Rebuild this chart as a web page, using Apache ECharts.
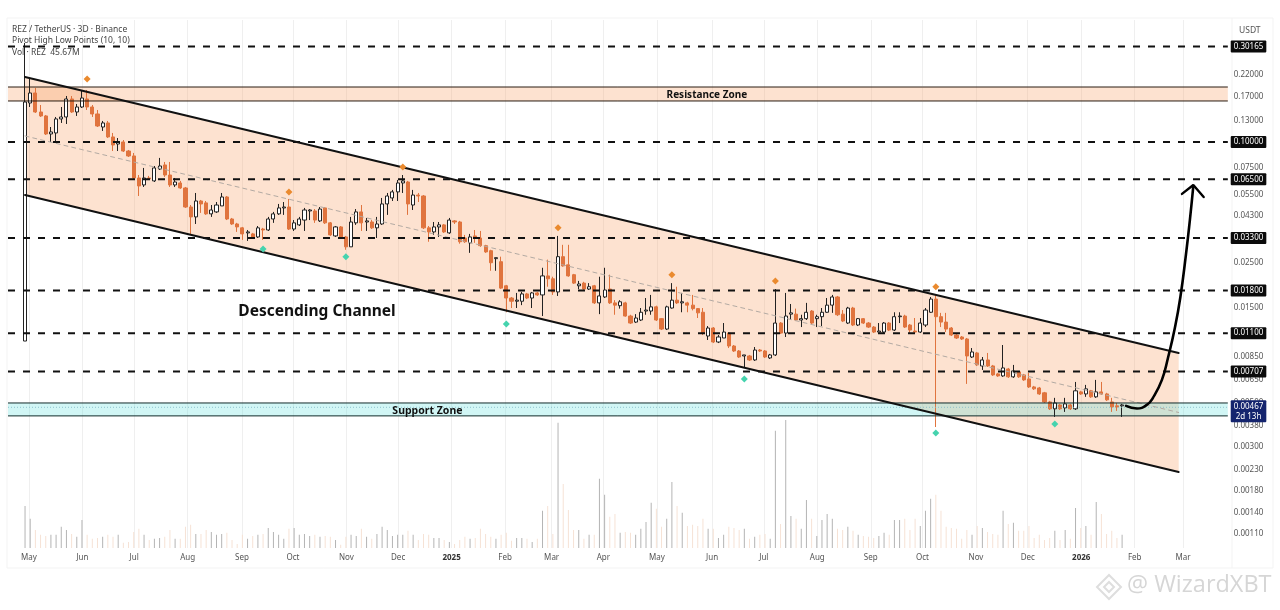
<!DOCTYPE html>
<html><head><meta charset="utf-8">
<style>html,body{margin:0;padding:0;background:#fff}#c{width:1280px;height:610px}</style>
<script src="https://cdn.jsdelivr.net/npm/echarts@6/dist/echarts.min.js"></script>
</head><body><div id="c"></div>
<script>
// ---- Data ----
const firstBar = '2024-04-28T17:00:00Z';
const barDays = 3;
const opens = [
.01004,.1569,.1761,.1414,.1351,.1097,.1110,.1305,.1335,.1643,
.1414,.1498,.1643,.1498,.1382,.1189,.1246,.1060,.0977,.1000,
.0901,.0851,.0660,.0609,.0660,.0638,.0732,.0767,.0683,.0609,
.0623,.0588,.0472,.0421,.0506,.0495,.0436,.0446,.0478,.0530,
.0411,.0388,.0371,.0350,.0346,.0334,.0366,.0362,.0411,.0436,
.0467,.0472,.0366,.0384,.0406,.0451,.0451,.0402,.0467,.0393,
.0338,.0375,.0334,.0298,.0393,.0446,.0397,.0397,.0371,.0388,
.0489,.0524,.0562,.0623,.0630,.0483,.0542,.0536,.0371,.0354,
.0375,.0384,.0350,.0402,.0397,.0330,.0312,.0338,.0330,.0302,
.0285,.0260,.0251,.0190,.0165,.0159,.0159,.0173,.0165,.0175,
.0171,.0213,.0206,.0177,.0266,.0242,.0216,.0190,.0196,.0183,
.0190,.0156,.0167,.0183,.0156,.0151,.0156,.0134,.0125,.0128,
.0142,.0142,.0149,.0130,.01153,.0147,.0161,.0156,.0156,.0152,
.0146,.0140,.01064,.01167,.00993,.0104,.01101,.00948,.00895,.00845,
.00845,.00807,.00905,.00895,.00826,.00855,.01236,.01101,.0137,.0137,
.0128,.0130,.0142,.0130,.0133,.0140,.0152,.0167,.0137,.01236,
.0147,.01208,.0130,.01236,.0118,.01114,.01114,.01236,.0114,.0133,
.0134,.01208,.01127,.01114,.01208,.0140,.0163,.0133,.0125,.01167,
.01076,.01052,.01028,.00835,.00875,.00753,.00807,.00753,.00687,.00671,
.00727,.00664,.00703,.00679,.00648,.00591,.00584,.00552,.00497,.00459,
.0048,.00464,.0048,.00459,.00558,.00545,.00565,.00527,.00558,.00545,
.00497,.00475,.00475];
const closes = [
.1587,.1761,.1414,.1351,.1097,.1123,.1305,.1335,.1643,.1414,
.1498,.1662,.1498,.1382,.1203,.1246,.1060,.0966,.1000,.0901,
.0851,.0660,.0602,.0660,.0653,.0741,.0758,.0683,.0609,.0630,
.0588,.0472,.0421,.0506,.0489,.0436,.0456,.0483,.0530,.0411,
.0388,.0375,.0346,.0354,.0334,.0371,.0362,.0411,.0436,.0467,
.0472,.0366,.0393,.0411,.0456,.0456,.0406,.0461,.0393,.0342,
.0375,.0334,.0298,.0397,.0446,.0393,.0402,.0371,.0388,.0489,
.0536,.0562,.0623,.0638,.0489,.0542,.0536,.0371,.0354,.0375,
.0384,.0354,.0406,.0397,.0316,.0316,.0334,.0330,.0302,.0281,
.0248,.0263,.0185,.0165,.0159,.0161,.0173,.0165,.0175,.0171,
.0213,.0206,.0177,.0266,.0239,.0213,.0196,.0194,.0183,.0188,
.0156,.0169,.0181,.0156,.0152,.0158,.0134,.01236,.0131,.0140,
.01436,.0149,.0128,.01153,.0149,.0161,.0156,.0158,.0152,.0146,
.0139,.01101,.01167,.00993,.01052,.01114,.00948,.00895,.00835,.00855,
.00807,.00905,.00895,.00835,.00855,.01236,.01101,.0134,.0139,.0128,
.0130,.0140,.01236,.0133,.0140,.0152,.0167,.0136,.01265,.0147,
.01208,.0130,.01236,.0118,.01114,.01127,.01236,.0114,.0133,.0134,
.0118,.0114,.01114,.01236,.01436,.0163,.0133,.0125,.01153,.01076,
.0104,.01028,.00845,.00885,.00762,.00807,.00753,.00679,.00671,.00736,
.00664,.00711,.00664,.00641,.00591,.00578,.00545,.00497,.00459,.00491,
.00459,.00486,.00459,.00565,.00545,.00578,.00527,.00558,.00545,.00509,
.00469,.00469,.0048];
const lows = [
.01004,.1498,.1398,.1335,.1084,.1000,.0989,.1246,.1231,.1398,
.1351,.1481,.1447,.1335,.1189,.1136,.1047,.0901,.0901,.0891,
.0841,.0653,.0536,.0595,.0645,.0630,.0724,.0668,.0595,.0595,
.0582,.0467,.0346,.0388,.0441,.0431,.0421,.0441,.0478,.0406,
.0384,.0354,.0323,.0319,.0330,.0330,.0323,.0358,.0393,.0431,
.0431,.0362,.0358,.0379,.0358,.0406,.0393,.0397,.0388,.0338,
.0334,.0330,.0288,.0298,.0384,.0358,.0358,.0366,.0330,.0384,
.0431,.0506,.0506,.0555,.0431,.0456,.0500,.0366,.0316,.0342,
.0334,.0350,.0346,.0388,.0309,.0312,.0278,.0312,.0298,.0278,
.0226,.0226,.0183,.0140,.0147,.0147,.0152,.0163,.0147,.0169,
.0134,.0188,.0171,.0169,.0237,.0211,.0194,.0183,.0181,.0181,
.0154,.0137,.0165,.0154,.0136,.0146,.0133,.01222,.01236,.01265,
.0136,.0136,.01265,.0114,.0114,.0146,.0154,.0140,.0140,.0143,
.0131,.01076,.01016,.00981,.00981,.0104,.00926,.00885,.00826,.00736,
.00798,.00798,.00885,.00826,.00816,.00845,.01089,.01052,.0128,.01265,
.0118,.0128,.01222,.0118,.01194,.0139,.0139,.0134,.0125,.01222,
.01194,.01194,.01222,.01167,.01101,.01114,.01101,.01127,.01127,.01236,
.01167,.01101,.01101,.01101,.0118,.0139,.00372,.0118,.01114,.01064,
.01028,.01016,.00612,.00826,.00753,.00719,.00744,.00671,.00664,.00664,
.00656,.00656,.00656,.00634,.00584,.00571,.00539,.00491,.00453,.00418,
.00453,.00443,.00453,.00453,.00539,.00527,.00521,.00521,.00539,.00503,
.00443,.00448,.00418];
const highs = [
.3137,.2094,.1866,.1533,.1366,.1189,.1335,.1498,.1701,.1701,
.1551,.1802,.1823,.1533,.1447,.1275,.1275,.1110,.1047,.1023,
.0912,.0881,.0683,.0741,.0676,.0758,.0832,.0794,.0794,.0660,
.0638,.0595,.0483,.0555,.0512,.0506,.0483,.0500,.0555,.0536,
.0416,.0393,.0375,.0362,.0350,.0379,.0371,.0421,.0446,.0489,
.0500,.0518,.0406,.0421,.0467,.0461,.0461,.0472,.0472,.0397,
.0379,.0379,.0338,.0421,.0461,.0483,.0416,.0406,.0421,.0524,
.0555,.0575,.0645,.0683,.0638,.0575,.0555,.0542,.0379,.0397,
.0397,.0388,.0416,.0406,.0402,.0342,.0346,.0362,.0358,.0305,
.0288,.0263,.0266,.0192,.0167,.0175,.0177,.0175,.0177,.0177,
.0234,.0257,.0211,.0338,.0305,.0305,.0218,.0201,.0199,.0196,
.0192,.0211,.0234,.0216,.0161,.0161,.0158,.0136,.0137,.0147,
.0165,.0171,.0151,.0131,.0151,.0196,.0188,.0175,.0158,.0171,
.0147,.0147,.01194,.0118,.01076,.01236,.01114,.00959,.00905,.00855,
.00855,.00937,.00916,.00905,.00865,.0183,.0125,.0175,.0154,.0146,
.0136,.0156,.01436,.0136,.0147,.0165,.0171,.0169,.01436,.0149,
.0149,.0131,.0131,.0125,.01194,.01236,.0125,.0125,.0140,.0140,
.0136,.01222,.0131,.0131,.0147,.0167,.0171,.0139,.0139,.0118,
.01089,.01064,.0104,.00926,.00885,.00835,.00875,.00762,.00695,.00959,
.00736,.00762,.00711,.00687,.00695,.00598,.00591,.00558,.00503,.00521,
.00486,.00521,.00486,.00626,.00565,.00605,.00571,.00641,.00626,.00552,
.00521,.00491,.00486];
const volumesM = [
147,102,63,46,42,46,46,74,63,49,
39,98,46,32,35,39,46,39,46,18,
21,56,67,46,28,32,35,39,63,32,
32,74,81,49,49,63,56,46,49,53,
28,14,46,32,42,46,49,70,56,46,
32,67,70,46,49,42,46,39,42,39,
28,11,39,46,42,67,39,32,49,74,
63,42,46,46,60,46,28,49,46,35,
35,28,21,14,28,39,32,35,67,49,
39,32,46,53,25,35,35,32,21,32,
130,147,49,438,
224,133,63,63,32,46,46,242,186,109,119,53,56,53,46,67,91,158,137,74,102,231,147,123,77,81,77,102,67,67,35,46,74,70,63,67,32,39,46,49,32,410,84,448,112,102,67,168,102,42,98,119,102,67,63,74,60,46,42,39,35,42,53,46,98,98,102,63,102,77,130,172,186,130,74,70,67,32,63,46,77,70,56,49,46,130,84,88,60,60,77,35,46,28,35,60,28,63,32,140,70,77,46,161,119,49,60,35,46];

const monthTicks = ['2024-05-01','2024-06-01','2024-07-01','2024-08-01','2024-09-01T12:00:00Z','2024-10-01','2024-11-01','2024-12-01','2025-01-01','2025-02-01','2025-02-28','2025-03-30','2025-04-30','2025-06-01','2025-07-01','2025-08-01','2025-09-01','2025-10-01','2025-11-01','2025-12-01','2026-01-01','2026-02-01','2026-03-01'];
const monthLabels = ['May','Jun','Jul','Aug','Sep','Oct','Nov','Dec','2025','Feb','Mar','Apr','May','Jun','Jul','Aug','Sep','Oct','Nov','Dec','2026','Feb','Mar'];

const levelPrices = [0.30165,0.10,0.065,0.033,0.018,0.011,0.00707];
const plainTicks = [0.22,0.17,0.13,0.075,0.055,0.043,0.025,0.015,0.0085,0.0065,0.005,0.0038,0.003,0.0023,0.0018,0.0014,0.0011];
const lastPrice = 0.00467, lastCountdown = '2d 13h';

const channelDates = ['2024-04-28T17:00:00Z','2026-02-26T12:00:00Z'];
const channelUpper = [0.2118,0.00875];
const channelLower = [0.0542,0.002213];
const channelMid   = [0.1072,0.0044];
const zoneEnds = ['2024-04-18T20:00:00Z','2026-03-27T00:00:00Z'];
const resistanceZone = [0.1606,0.1887];
const supportZone = [0.00423,0.00491];

const pivotHighBars = [13,52,74,104,126,146,177];
const pivotHighPrices = [.207,.0562,.0749,.0371,.0216,.0201,.0188];
const pivotLowBars = [47,63,94,140,177,200];
const pivotLowPrices = [.0291,.0266,.01222,.00648,.00347,.00385];

const arrowDates = ['2026-01-27T00:00:00Z','2026-02-02T07:00:00Z','2026-02-08T00:00:00Z','2026-02-11T14:00:00Z','2026-02-16T19:00:00Z','2026-02-20T07:00:00Z','2026-02-24T07:00:00Z','2026-02-27T12:00:00Z','2026-03-02T17:00:00Z','2026-03-05T00:00:00Z','2026-03-07T00:00:00Z'];
const arrowPrices = [.00475,.00461,.0048,.00521,.00641,.00826,.01167,.0167,.0272,.0406,.0602];
const arrowHeadDates = ['2026-02-28T10:00:00Z','2026-03-07T00:00:00Z','2026-03-13T00:00:00Z'];
const arrowHeadPrices = [.0549,.0609,.0530];

const annotations = [
  ['Descending Channel','2024-10-15T00:00:00Z',0.0141,15.5],
  ['Resistance Zone','2025-05-29T00:00:00Z',0.172,10],
  ['Support Zone','2024-12-18T00:00:00Z',0.00446,10.5]
];

// ---- Build ----
const t = s => +new Date(s);
const DAY = 86400000;
const barTime = i => t(firstBar) + i * barDays * DAY;
const axisMin = t('2024-04-18T20:00:00Z'), axisMax = t('2026-04-19T07:00:00Z');
const labelX = t('2026-04-08T00:00:00Z');
const FONT = '"Noto Sans","Open Sans",sans-serif';
const ORANGE = '#e0743e';

const candleData = opens.map((o,i)=>[barTime(i),o,closes[i],lows[i],highs[i]]);
const volData = volumesM.map((v,i)=>({value:[barTime(i),v],itemStyle:{color: closes[i]>=opens[i] ? '#b4b4b4' : '#f6e2d5'}}));

function hline(price, color, width, type, z){
  return {type:'line',data:zoneEnds.map(d=>[t(d),price]),symbol:'none',silent:true,z:z||4,
    lineStyle:{color,width,type}};
}
function segment(dates, prices, color, width, type, z, smooth){
  return {type:'line',data:dates.map((d,i)=>[t(d),prices[i]]),symbol:'none',silent:true,z:z||4,smooth:smooth||false,
    lineStyle:{color,width,type,cap:'round'}};
}
function band(getPoly, fill){
  return {type:'custom',coordinateSystem:'cartesian2d',z:1,silent:true,data:[[t(channelDates[0]),channelUpper[0]]],
    clip:true,
    renderItem:(p,api)=>({type:'polygon',shape:{points:getPoly().map(q=>api.coord(q))},style:{fill}})};
}
const solid = {opacity:1};

const series = [
  band(()=>[[t(channelDates[0]),channelUpper[0]],[t(channelDates[1]),channelUpper[1]],[t(channelDates[1]),channelLower[1]],[t(channelDates[0]),channelLower[0]]],'rgba(247,160,100,0.30)'),
  band(()=>[[t(zoneEnds[0]),resistanceZone[1]],[t(zoneEnds[1]),resistanceZone[1]],[t(zoneEnds[1]),resistanceZone[0]],[t(zoneEnds[0]),resistanceZone[0]]],'rgba(247,160,100,0.30)'),
  band(()=>[[t(zoneEnds[0]),supportZone[1]],[t(zoneEnds[1]),supportZone[1]],[t(zoneEnds[1]),supportZone[0]],[t(zoneEnds[0]),supportZone[0]]],'rgba(90,222,218,0.28)'),
  {type:'bar',yAxisIndex:1,barWidth:1,data:volData,silent:true,z:2},
  {type:'candlestick',data:candleData,barWidth:3.6,silent:true,z:3,encode:{x:0,y:[1,2,3,4]},
    itemStyle:{color:'#ffffff',color0:ORANGE,borderColor:'#222',borderColor0:ORANGE,borderWidth:1}},
  segment(channelDates,channelMid,'#b3aaa3',1,[4,4],4),
  segment(channelDates,channelUpper,'#111',2,'solid',5),
  segment(channelDates,channelLower,'#111',2,'solid',5),
  hline(resistanceZone[0],'#2a1d12',1,'solid'),
  hline(resistanceZone[1],'#2a1d12',1,'solid'),
  hline(supportZone[0],'#122b2a',1,'solid'),
  hline(supportZone[1],'#122b2a',1,'solid'),
  hline(lastPrice,'#7fb6c4',0.8,[1,2]),
  ...levelPrices.map(p=>hline(p,'#111',2,[7,8])),
  segment(arrowDates,arrowPrices,'#000',2.6,'solid',6,0.5),
  segment(arrowHeadDates,arrowHeadPrices,'#000',2.4,'solid',6),
  {type:'scatter',symbol:'diamond',symbolSize:7,z:6,silent:true,itemStyle:{color:'#ea8a2e',opacity:1},
    data:pivotHighBars.map((b,i)=>[barTime(b-1),pivotHighPrices[i]])},
  {type:'scatter',symbol:'diamond',symbolSize:7,z:6,silent:true,itemStyle:{color:'#45d3ae',opacity:1},
    data:pivotLowBars.map((b,i)=>[barTime(b-1),pivotLowPrices[i]])},
  {type:'scatter',symbolSize:0,z:7,silent:true,clip:false,itemStyle:solid,
    data:annotations.map(a=>({value:[t(a[1]),a[2]],label:{show:true,position:'inside',formatter:a[0],fontSize:a[3],fontWeight:'bold',color:'#111',fontFamily:FONT}}))},
  {type:'scatter',symbolSize:0,z:7,silent:true,clip:false,itemStyle:solid,
    data:plainTicks.map(p=>[labelX,p]),
    label:{show:true,position:'inside',offset:[0,1],formatter:o=>o.value[1].toFixed(5),fontSize:8,color:'#555',fontFamily:FONT}},
  {type:'scatter',symbolSize:0,z:8,silent:true,clip:false,itemStyle:solid,
    data:levelPrices.map(p=>[labelX,p]),
    label:{show:true,position:'inside',formatter:o=>o.value[1].toFixed(5),fontSize:8,color:'#fff',fontFamily:FONT,backgroundColor:'#0b0b0b',padding:[2,3,2,3],borderRadius:1}},
  {type:'scatter',symbolSize:0,z:9,silent:true,clip:false,itemStyle:solid,
    data:[[labelX,lastPrice]],
    label:{show:true,position:'inside',offset:[0,4],formatter:o=>o.value[1].toFixed(5)+'\n'+lastCountdown,fontSize:8,lineHeight:10,color:'#fff',fontFamily:FONT,backgroundColor:'#14246e',padding:[1,3,1,3],borderRadius:1}}
];

const chart = echarts.init(document.getElementById('c'),null,{renderer:'canvas'});
const tickVals = monthTicks.map(t);
chart.setOption({
  animation:false,backgroundColor:'#ffffff',
  grid:{left:8,right:12,top:20,bottom:62,containLabel:false},
  xAxis:{type:'value',min:axisMin,max:axisMax,scale:true,
    axisLine:{show:false},
    axisTick:{show:false,customValues:tickVals},
    splitLine:{show:true,lineStyle:{color:'#efefef',width:1}},
    axisLabel:{show:true,margin:6,hideOverlap:false,customValues:tickVals,fontFamily:FONT,fontSize:8,color:'#555',
      formatter:v=>{const i=tickVals.indexOf(+v);const s=i>=0?monthLabels[i]:'';return /^20/.test(s)?'{y|'+s+'}':s;},
      rich:{y:{fontFamily:FONT,fontSize:8,fontWeight:'bold',color:'#333'}}}},
  yAxis:[
    {type:'log',logBase:10,min:0.00092,max:0.4091,show:false},
    {type:'value',min:0,max:1848,show:false}
  ],
  series,
  graphic:[
    {type:'rect',silent:true,z:-1,shape:{x:7,y:18,width:1266,height:550},style:{fill:'none',stroke:'#f3f3f3',lineWidth:1}},
    {type:'line',silent:true,z:-1,shape:{x1:1232,y1:18,x2:1232,y2:568},style:{stroke:'#f3f3f3',lineWidth:1}},
    {type:'text',silent:true,z:20,left:12,top:25,style:{text:'REZ / TetherUS · 3D · Binance',fontSize:8.5,fontFamily:FONT,fill:'#444'}},
    {type:'text',silent:true,z:20,left:12,top:36.5,style:{text:'Pivot High Low Points (10, 10)',fontSize:8.5,fontFamily:FONT,fill:'#444'}},
    {type:'text',silent:true,z:20,left:12,top:48,style:{text:'Vol · REZ  45.67M',fontSize:8.5,fontFamily:FONT,fill:'#444'}},
    {type:'text',silent:true,z:20,left:1239,top:26,style:{text:'USDT',fontSize:8.5,fontFamily:FONT,fill:'#555'}},
    {type:'polygon',silent:true,z:20,shape:{points:[[1109,575],[1121,587],[1109,599],[1097,587]]},style:{fill:'none',stroke:'#dedede',lineWidth:2}},
    {type:'polygon',silent:true,z:20,shape:{points:[[1109,582],[1114,587],[1109,592],[1104,587]]},style:{fill:'none',stroke:'#dedede',lineWidth:2}},
    {type:'text',silent:true,z:20,left:1127,top:573,style:{text:'@ WizardXBT',fontSize:23.5,fontFamily:'"Open Sans",sans-serif',fill:'#d6d6d6'}}
  ]
});
</script>
</body></html>
